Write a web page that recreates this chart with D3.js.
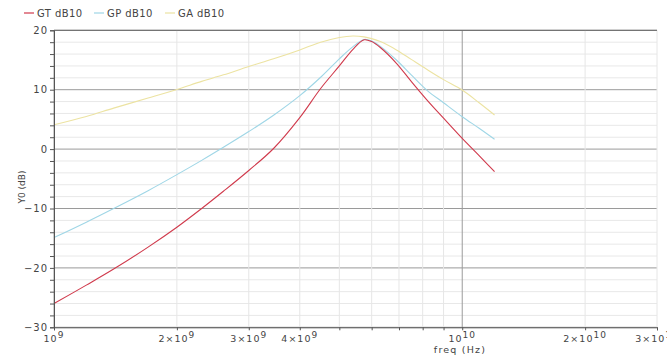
<!DOCTYPE html>
<html><head><meta charset="utf-8">
<script src="https://cdn.jsdelivr.net/npm/d3@7"></script>
<style>
html,body{margin:0;padding:0;background:#fff;overflow:hidden;}
text{font-family:"DejaVu Sans",Verdana,sans-serif;fill:#444;}
</style></head>
<body><svg id="c" width="667" height="355"></svg>
<script>
// Frequencies (GHz) shared by all series
const freqGHz = [1, 1.2, 1.4, 1.7, 2, 2.3, 2.6, 3, 3.45, 4, 4.5, 5, 5.4, 5.75, 6.0, 6.3, 6.9, 7.5, 8.2, 9, 10, 11, 12];
const seriesNames = ["GT dB10", "GP dB10", "GA dB10"];
const seriesColors = ["#d03a4c", "#9fd6e6", "#ece3a2"];
const GT = [-26.0, -22.9, -20.2, -16.5, -13.15, -10.0, -7.1, -3.6, 0.1, 5.3, 10.2, 14.0, 16.8, 18.4, 18.1, 17.1, 14.45, 11.4, 8.25, 5.2, 1.8, -1.1, -3.8];
const GP = [-14.9, -12.3, -10.0, -7.0, -4.3, -1.9, 0.3, 2.95, 5.7, 9.0, 12.1, 15.2, 17.25, 18.45, 18.2, 17.3, 15.0, 12.5, 9.9, 7.8, 5.45, 3.5, 1.65];
const GA = [4.1, 5.5, 6.9, 8.6, 10.05, 11.4, 12.5, 13.9, 15.2, 16.7, 18.0, 18.8, 19.05, 18.9, 18.6, 18.1, 16.7, 15.1, 13.4, 11.7, 9.95, 7.8, 5.74];
const yTicks = [-30, -20, -10, 0, 10, 20];
const xLabelTicks = [1e9, 2e9, 3e9, 4e9, 1e10, 2e10, 3e10];
const xLabel = "freq (Hz)";
const yLabel = "Y0 (dB)";

const svg = d3.select("#c");
const L = 54, R = 657, T = 30.3, B = 327.3;
const x = d3.scaleLog().domain([1e9, 3e10]).range([L, R]);
const y = d3.scaleLinear().domain([-30, 20]).range([B, T]);

const minorX = [];
for (const dec of [1e9, 1e10]) for (let k = 1; k <= 9; k++) { const v = k * dec; if (v <= 3e10) minorX.push(v); }
const minorY = d3.range(-30, 21, 2);

// grid
const g = svg.append("g");
g.selectAll("line.hy").data(minorY).join("line")
  .attr("x1", L).attr("x2", R).attr("y1", d => y(d)).attr("y2", d => y(d))
  .attr("stroke", d => d % 10 === 0 ? "#9a9a9a" : "#e8e8e8").attr("stroke-width", 1);
g.selectAll("line.vx").data(minorX).join("line")
  .attr("y1", T).attr("y2", B).attr("x1", d => x(d)).attr("x2", d => x(d))
  .attr("stroke", d => (Math.abs(Math.log10(d) % 1) < 1e-9) ? "#9a9a9a" : "#e6e6e6").attr("stroke-width", 1);
// top border
svg.append("line").attr("x1", L).attr("x2", R).attr("y1", y(20)).attr("y2", y(20)).attr("stroke", "#666");

// series
const line = d3.line().x((d, i) => x(freqGHz[i] * 1e9)).y(d => y(d)).curve(d3.curveCatmullRom.alpha(0.5));
[GA, GP, GT].forEach((s, j) => {
  const idx = 2 - j;
  svg.append("path").datum(s).attr("d", line).attr("fill", "none")
    .attr("stroke", seriesColors[idx]).attr("stroke-width", 1.1);
});

// y axis
const ya = svg.append("g").attr("transform", `translate(${L},0)`)
  .call(d3.axisLeft(y).tickValues(minorY).tickSize(4).tickPadding(2)
    .tickFormat(d => yTicks.includes(d) ? (d < 0 ? "\u2212" + Math.abs(d) : String(d)) : ""));
ya.select(".domain").attr("stroke", "#555");
ya.selectAll(".tick line").attr("stroke", "#555");
ya.selectAll("text").style("font-size", "10px").style("letter-spacing", "1px").attr("fill", "#444").attr("font-family", null);

// x axis
const xa = svg.append("g").attr("transform", `translate(0,${B})`)
  .call(d3.axisBottom(x).tickValues(minorX).tickSize(3).tickFormat(() => ""));
xa.select(".domain").attr("stroke", "#555");
xa.selectAll(".tick line").attr("stroke", "#555");
const xl = svg.append("g");
xLabelTicks.forEach(v => {
  const e = Math.floor(Math.log10(v) + 1e-9);
  const m = Math.round(v / Math.pow(10, e));
  const t = xl.append("text").attr("x", x(v)).attr("y", 341.5).attr("text-anchor", "middle")
    .style("font-size", "9.5px").style("letter-spacing", "1px");
  t.append("tspan").text((m === 1 ? "" : m + "\u00d7") + "10");
  t.append("tspan").attr("dy", -4).style("font-size", "9px").text(String(e));
});
svg.append("text").attr("x", 460).attr("y", 353).attr("text-anchor", "middle")
  .style("font-size", "9.5px").style("letter-spacing", "1.2px").text(xLabel);
svg.append("text").attr("transform", "translate(25,187) rotate(-90)").attr("text-anchor", "middle")
  .style("font-size", "9px").text(yLabel);

// legend
const lg = svg.append("g");
const legX = [24, 94, 165];
seriesNames.forEach((n, i) => {
  lg.append("line").attr("x1", legX[i]).attr("x2", legX[i] + 10).attr("y1", 13).attr("y2", 13)
    .attr("stroke", seriesColors[i]).attr("stroke-width", 1.2);
  lg.append("text").attr("x", legX[i] + 13).attr("y", 16.5).style("font-size", "10px")
    .style("letter-spacing", "0.4px").text(n);
});
</script></body></html>
